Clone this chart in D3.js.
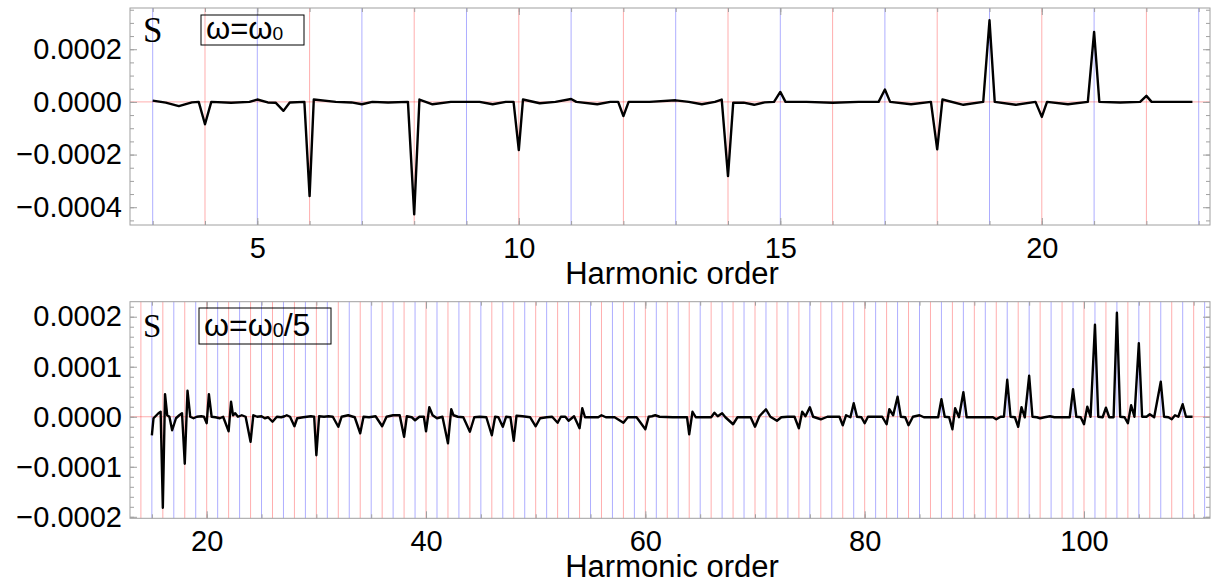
<!DOCTYPE html>
<html>
<head>
<meta charset="utf-8">
<script src="https://cdn.jsdelivr.net/npm/d3@7"></script>
<style>
  html, body { margin: 0; padding: 0; background: #fff; }
  svg { display: block; }
  text { font-family: "Liberation Sans", Arial, sans-serif; fill: #000; }
</style>
</head>
<body>
<svg id="chart" width="1212" height="581"></svg>
<script>
// ---------------- data ----------------
const topOrder = [3.0,3.25,3.5,3.75,3.88,4.0,4.12,4.5,4.85,5.0,5.2,5.35,5.5,5.62,5.9,6.0,6.08,6.5,6.8,7.0,7.2,7.5,7.88,8.0,8.1,8.35,8.7,9.0,9.25,9.5,9.75,9.9,10.0,10.08,10.4,10.7,11.0,11.1,11.5,11.75,11.9,12.0,12.1,12.5,13.0,13.25,13.5,13.75,13.88,14.0,14.1,14.3,14.5,14.7,14.88,15.0,15.1,15.5,16.0,16.5,16.88,17.0,17.1,17.5,17.88,18.0,18.1,18.5,18.88,19.0,19.1,19.5,19.88,20.0,20.1,20.5,20.88,21.0,21.1,21.5,21.88,22.0,22.1,22.5,22.88];
const topS = [5e-6,-3e-6,-1.6e-5,-2e-6,0,-8.5e-5,0,-3e-6,0,9e-6,-2e-6,-3e-6,-3.4e-5,-2e-6,0,-3.58e-4,9e-6,0,-2e-6,-9e-6,0,-2e-6,0,-4.27e-4,9e-6,-9e-6,0,0,0,-9e-6,0,0,-1.83e-4,9e-6,-5e-6,0,1.1e-5,0,-9e-6,0,0,-5.4e-5,0,0,6e-6,0,-9e-6,0,9e-6,-2.82e-4,-3e-6,-3e-6,-1.1e-5,-2e-6,0,3.8e-5,0,0,-3e-6,0,0,4.7e-5,0,-9e-6,0,-1.8e-4,9e-6,-1.1e-5,0,3.1e-4,0,-1.1e-5,0,-5.7e-5,0,-9e-6,0,2.66e-4,0,-2e-6,0,2.3e-5,0,0,0];

const bottomOrder = [15.0,15.15,15.6,15.8,16.0,16.2,16.4,16.6,16.85,17.2,17.5,17.75,18.0,18.25,18.5,18.8,19.1,19.5,19.75,20.0,20.2,20.45,20.8,21.2,21.5,22.0,22.22,22.4,22.6,22.85,23.2,23.55,24.0,24.25,24.6,25.0,25.3,25.6,26.0,26.4,26.8,27.1,27.3,27.6,28.0,28.25,28.8,29.5,29.8,30.0,30.25,30.7,31.1,31.5,32.0,32.3,32.9,33.5,34.0,34.3,34.8,35.4,36.0,36.4,37.0,37.6,38.0,38.25,38.7,39.0,39.4,39.8,40.0,40.3,40.6,41.0,41.5,42.0,42.3,42.5,42.9,43.4,44.0,44.4,44.9,45.5,46.0,46.3,46.6,47.0,47.3,47.7,48.0,48.25,48.8,49.5,50.0,50.4,51.0,51.5,52.0,52.3,52.7,53.0,53.5,54.0,54.25,54.5,55.2,55.7,56.0,56.4,57.2,58.0,58.4,59.2,60.0,60.3,60.6,60.9,61.3,62.5,63.2,63.8,64.0,64.3,64.6,65.3,66.0,66.3,66.6,67.0,67.3,68.0,68.4,69.0,69.6,70.0,70.4,71.0,71.4,72.0,72.4,73.0,73.6,74.0,74.3,74.6,75.0,75.3,76.0,76.6,77.3,77.7,78.0,78.3,78.7,79.0,79.3,79.7,80.0,80.3,81.0,81.6,82.0,82.25,82.6,83.0,83.3,83.7,84.0,84.4,85.0,85.4,86.0,86.7,87.0,87.3,87.7,88.0,88.25,88.6,89.0,89.3,90.0,91.0,91.7,92.0,92.4,92.7,93.0,93.3,93.7,94.0,94.3,94.6,95.0,95.3,95.7,96.0,96.4,96.9,97.3,98.0,98.7,99.0,99.3,99.7,100.0,100.3,100.6,101.0,101.3,101.7,102.0,102.3,102.7,103.0,103.3,103.7,104.0,104.3,104.6,105.0,105.3,105.7,106.0,106.4,107.0,107.3,107.7,108.0,108.3,108.6,109.0,109.3,109.9];
const bottomS = [-3.7e-5,-3e-6,7e-6,1e-5,-1.82e-4,4.5e-5,3e-6,0,-2.7e-5,-3e-6,3e-6,7e-6,-9.4e-5,5.2e-5,0,-3e-6,0,1e-6,0,-1.3e-5,4.5e-5,0,-1e-6,-3e-6,0,-2.9e-5,3e-5,3e-6,7e-6,0,3e-6,0,-5e-5,3e-6,0,1e-6,-3e-6,-1e-6,-1e-5,0,-1e-6,1e-6,3e-6,0,-1.9e-5,-3e-6,-1e-6,1e-6,0,-7.7e-5,1e-6,0,1e-6,0,-2e-5,0,3e-6,-1e-6,-3.3e-5,0,-1e-6,1e-6,-1.9e-5,0,3e-6,3e-6,-4e-5,1e-6,-1e-6,-7e-6,0,0,-2.9e-5,1.9e-5,3e-6,-3e-6,0,-5.3e-5,1.5e-5,3e-6,0,-1e-6,-3e-5,-1e-6,0,-1e-6,-3.7e-5,0,-1e-6,-2e-5,0,-1e-6,-4.8e-5,2e-6,1e-6,-1e-6,-1.9e-5,-3e-6,-1e-6,0,-1.2e-5,0,0,-8e-6,1e-6,-2.3e-5,1.7e-5,-1e-6,-1e-6,-1e-6,3e-6,-1e-6,-1e-6,-1.2e-5,-1e-6,-1e-6,-2.5e-5,0,1e-6,3e-6,0,-1e-6,-1e-6,-1e-6,-3.5e-5,1e-5,-1e-6,-1e-6,-1e-6,8e-6,1e-6,7e-6,-1e-6,-1.5e-5,-1e-6,-1e-6,-1e-6,-2e-5,1e-6,1.5e-5,0,-8e-6,-1e-6,0,0,-2.3e-5,1e-5,1e-6,1.9e-5,0,-5e-6,0,0,0,-1.7e-5,3e-6,-1e-6,2.7e-5,0,-1e-6,-1.3e-5,0,0,0,-1.5e-5,1.5e-5,3e-6,4e-5,0,-1e-6,-1.7e-5,0,3e-6,-1e-6,-1e-6,-1e-6,3.5e-5,0,-1e-6,-2.5e-5,1.7e-5,-1e-6,4.9e-5,-1e-6,-1e-6,-1e-6,-1e-6,-5e-6,0,0,7.4e-5,0,-1e-6,-2e-5,1.9e-5,-1e-6,8.2e-5,0,-1e-6,-3e-6,-1e-6,1e-6,-1e-6,-1e-6,-1e-6,5.5e-5,0,-1e-6,-1.5e-5,2e-5,0,1.84e-4,0,-1e-6,1.8e-5,-1e-6,-1e-6,2.08e-4,0,-1e-6,-1.3e-5,2.3e-5,0,1.47e-4,0,0,5e-6,-1e-6,7e-5,0,-1e-6,-5e-6,3e-6,0,2.5e-5,0,0];

const topXTicks = [5, 10, 15, 20];
const topYTicks = [-0.0004, -0.0002, 0, 0.0002];
const bottomXTicks = [20, 40, 60, 80, 100];
const bottomYTicks = [-0.0002, -0.0001, 0, 0.0001, 0.0002];
const topLabel = ["ω=ω", "0", ""];
const bottomLabel = ["ω=ω", "0", "/5"];
const xTitle = "Harmonic order";
const sLabel = "S";

// ---------------- drawing ----------------
const svg = d3.select("#chart");
const fmtY = d3.format(".4f");

function panel(cfg) {
  const x = d3.scaleLinear().domain(cfg.xDomain).range([130, 1210]);
  const y = d3.scaleLinear().domain(cfg.yDomain).range([cfg.bottom, cfg.top]);
  const g = svg.append("g");
  const [x0, x1] = [130, 1210];

  // grid lines: red at even orders, blue at odd orders
  const gl = d3.range(Math.ceil(cfg.xDomain[0]), Math.floor(cfg.xDomain[1]) + 1);
  g.append("g").selectAll("line").data(gl).join("line")
    .attr("x1", d => x(d)).attr("x2", d => x(d))
    .attr("y1", cfg.top).attr("y2", cfg.bottom)
    .attr("stroke", d => d % 2 === 0 ? "rgba(255,0,0,0.32)" : "rgba(0,0,255,0.32)")
    .attr("stroke-width", 1);
  g.append("line").attr("x1", x0).attr("x2", x1)
    .attr("y1", y(0)).attr("y2", y(0))
    .attr("stroke", "rgba(255,0,0,0.32)").attr("stroke-width", 1);

  // data line
  const pts = cfg.xs.map((d, i) => [d, cfg.ys[i]]);
  g.append("path").datum(pts)
    .attr("fill", "none").attr("stroke", "#000").attr("stroke-width", 2.4)
    .attr("stroke-linejoin", "round")
    .attr("d", d3.line().x(d => x(d[0])).y(d => y(d[1])));

  // frame
  g.append("rect").attr("x", x0).attr("y", cfg.top)
    .attr("width", x1 - x0).attr("height", cfg.bottom - cfg.top)
    .attr("fill", "none").attr("stroke", "#a0a0a0").attr("stroke-width", 1);

  const minorX = d3.range(Math.ceil(cfg.xDomain[0] / cfg.xMinor) * cfg.xMinor, cfg.xDomain[1], cfg.xMinor);
  const minorY = d3.range(Math.ceil(cfg.yDomain[0] / cfg.yMinor - 1e-9) * cfg.yMinor, cfg.yDomain[1], cfg.yMinor);

  function styleAxis(sel) {
    sel.select(".domain").remove();
    sel.selectAll(".tick line").attr("stroke", "#a0a0a0");
    sel.selectAll("text").style("font-size", "29px").attr("fill", "#000");
  }
  // bottom
  g.append("g").attr("transform", `translate(0,${cfg.bottom})`)
    .call(d3.axisBottom(x).tickValues(minorX).tickSize(-4).tickFormat(""))
    .call(styleAxis);
  g.append("g").attr("transform", `translate(0,${cfg.bottom})`)
    .call(d3.axisBottom(x).tickValues(cfg.xTicks).tickSize(-7).tickPadding(12).tickFormat(d3.format("d")))
    .call(styleAxis);
  // top (mirrored)
  g.append("g").attr("transform", `translate(0,${cfg.top})`)
    .call(d3.axisTop(x).tickValues(minorX).tickSize(-4).tickFormat(""))
    .call(styleAxis);
  g.append("g").attr("transform", `translate(0,${cfg.top})`)
    .call(d3.axisTop(x).tickValues(cfg.xTicks).tickSize(-7).tickFormat(""))
    .call(styleAxis);
  // left
  g.append("g").attr("transform", `translate(${x0},0)`)
    .call(d3.axisLeft(y).tickValues(minorY).tickSize(-4).tickFormat(""))
    .call(styleAxis);
  g.append("g").attr("transform", `translate(${x0},0)`)
    .call(d3.axisLeft(y).tickValues(cfg.yTicks).tickSize(-7).tickPadding(8).tickFormat(fmtY))
    .call(styleAxis);
  // right (mirrored)
  g.append("g").attr("transform", `translate(${x1},0)`)
    .call(d3.axisRight(y).tickValues(minorY).tickSize(-4).tickFormat(""))
    .call(styleAxis);
  g.append("g").attr("transform", `translate(${x1},0)`)
    .call(d3.axisRight(y).tickValues(cfg.yTicks).tickSize(-7).tickFormat(""))
    .call(styleAxis);

  // axis title
  g.append("text").attr("x", 672).attr("y", cfg.titleY)
    .attr("text-anchor", "middle").style("font-size", "31px").text(xTitle);

  // S label
  g.append("text").attr("x", cfg.sX).attr("y", cfg.sY)
    .style("font-family", "'Liberation Serif', 'Times New Roman', serif")
    .style("font-size", cfg.sSize + "px").text(sLabel);

  // boxed omega label
  const t = g.append("text").attr("x", cfg.boxTextX).attr("y", cfg.boxTextY)
    .style("font-size", cfg.boxSize + "px");
  t.append("tspan").text(cfg.label[0]);
  t.append("tspan").style("font-size", (cfg.boxSize * 0.62) + "px").attr("dy", 1).text(cfg.label[1]);
  if (cfg.label[2]) t.append("tspan").attr("dy", -1).text(cfg.label[2]);
  const bb = t.node().getBBox();
  g.append("rect")
    .attr("x", cfg.box[0]).attr("y", cfg.box[1])
    .attr("width", Math.max(cfg.box[2], bb.width + 10)).attr("height", cfg.box[3])
    .attr("fill", "none").attr("stroke", "#000").attr("stroke-width", 1);
}

panel({
  xDomain: [2.566, 23.216], yDomain: [-0.0004675, 0.0003566],
  top: 8, bottom: 225,
  xs: topOrder, ys: topS,
  xTicks: topXTicks, yTicks: topYTicks, xMinor: 1, yMinor: 0.00005,
  titleY: 284, sX: 143, sY: 42, sSize: 35,
  label: topLabel, boxTextX: 206, boxTextY: 39, boxSize: 31, box: [201, 15, 103, 30]
});

panel({
  xDomain: [13.006, 111.49], yDomain: [-0.000203, 0.00023],
  top: 301.7, bottom: 518.3,
  xs: bottomOrder, ys: bottomS,
  xTicks: bottomXTicks, yTicks: bottomYTicks, xMinor: 5, yMinor: 0.00002,
  titleY: 577, sX: 143, sY: 337, sSize: 33,
  label: bottomLabel, boxTextX: 204, boxTextY: 336, boxSize: 32, box: [199, 308, 132, 36]
});
</script>
</body>
</html>
